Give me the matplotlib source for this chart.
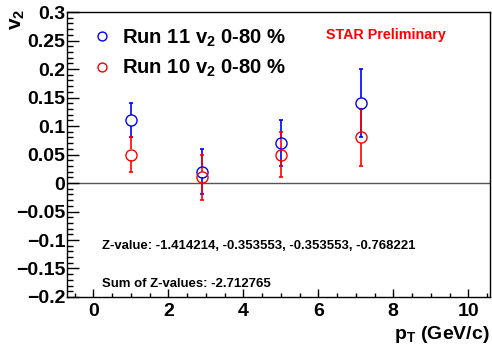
import numpy as np
import matplotlib
matplotlib.use("Agg")
import matplotlib.pyplot as plt
from matplotlib.ticker import MultipleLocator

plt.rcParams['font.family'] = ['Liberation Sans', 'DejaVu Sans']
plt.rcParams['font.weight'] = 'bold'
plt.rcParams['mathtext.fontset'] = 'custom'
plt.rcParams['mathtext.rm'] = 'Liberation Sans:bold'
plt.rcParams['mathtext.it'] = 'Liberation Sans:bold'
plt.rcParams['mathtext.bf'] = 'Liberation Sans:bold'
plt.rcParams['mathtext.default'] = 'rm'

# data
pt = [1.0, 2.9, 5.0, 7.15]
v2_run11 = [0.11, 0.02, 0.07, 0.14]
err_run11 = [0.03, 0.04, 0.04, 0.06]
v2_run10 = [0.05, 0.01, 0.05, 0.08]
err_run10 = [0.03, 0.04, 0.04, 0.05]
z_values = [-1.414214, -0.353553, -0.353553, -0.768221]
z_sum = -2.712765

BLUE = '#0000ff'
RED = '#ff0000'
MS = 8

fig = plt.figure(figsize=(4.92, 3.49), dpi=100)
ax = fig.add_axes([0.1356, 0.149, 0.8604, 0.8166])
ax.set_xlim(-0.71, 10.58)
ax.set_ylim(-0.2, 0.3)

ax.axhline(0, color='#555555', lw=1.0, zorder=1)


def draw_series(x, y, err, color, label):
    # ROOT style: error bars stop at the edge of the open marker
    px_per_unit = ax.transData.transform((0, 1))[1] - ax.transData.transform((0, 0))[1]
    gap = (MS / 2 * fig.dpi / 72) / px_per_unit
    x = np.array(x)
    y = np.array(y)
    err = np.array(err)
    ax.vlines(x, y + gap, y + err, color=color, lw=1.2, zorder=2)
    ax.vlines(x, y - err, y - gap, color=color, lw=1.2, zorder=2)
    ax.plot(x, y + err, '_', color=color, ms=3, mew=1.2, zorder=2)
    ax.plot(x, y - err, '_', color=color, ms=3, mew=1.2, zorder=2)
    ax.plot(x, y, 'o', ms=MS, mfc='none', mec=color, mew=1.0, ls='none',
            label=label, zorder=3)


draw_series(pt, v2_run11, err_run11, BLUE, 'Run 11 v$_2$ 0-80 %')
draw_series(pt, v2_run10, err_run10, RED, 'Run 10 v$_2$ 0-80 %')

leg = ax.legend(loc='upper left', bbox_to_anchor=(0.048, 0.975), frameon=False,
                prop={'size': 14.6, 'weight': 'bold'}, markerscale=0.8,
                handlelength=0.7, handletextpad=0.6,
                labelspacing=0.45, borderaxespad=0)

ax.text(0.753, 0.919, 'STAR Preliminary', color=RED, fontsize=10.3,
        fontweight='bold', ha='center', va='center', transform=ax.transAxes)
ax.text(0.083, 0.18, 'Z-value: ' + ', '.join(f'{z:.6f}' for z in z_values),
        fontsize=9.45, fontweight='bold', ha='left', va='center', transform=ax.transAxes)
ax.text(0.083, 0.047, f'Sum of Z-values: {z_sum:.6f}',
        fontsize=9.45, fontweight='bold', ha='left', va='center', transform=ax.transAxes)

ax.xaxis.set_major_locator(MultipleLocator(2))
ax.xaxis.set_minor_locator(MultipleLocator(0.5))
ax.yaxis.set_major_locator(MultipleLocator(0.05))
ax.yaxis.set_minor_locator(MultipleLocator(0.01))
ax.yaxis.set_major_formatter(plt.FuncFormatter(lambda v, p: f'{v:g}'.replace('-', '\u2212')))

ax.tick_params(axis='y', which='major', direction='in', length=8.6, width=1, labelsize=14, pad=1)
ax.tick_params(axis='y', which='minor', direction='in', length=4.3, width=1)
ax.tick_params(axis='x', which='major', direction='in', length=5.8, width=1, labelsize=14, pad=4)
ax.tick_params(axis='x', which='minor', direction='in', length=2.9, width=1)
for lbl in ax.get_xticklabels() + ax.get_yticklabels():
    lbl.set_fontweight('bold')
for s in ax.spines.values():
    s.set_linewidth(1.0)

ax.set_xlabel('p$_T$ (GeV/c)', fontsize=14, fontweight='bold', loc='right')
ax.xaxis.set_label_coords(1.0, -0.095)
ax.set_ylabel('v$_2$', fontsize=15, fontweight='bold', loc='top')
ax.yaxis.set_label_coords(-0.093, 1.01)

fig.savefig('out.png', dpi=100)
